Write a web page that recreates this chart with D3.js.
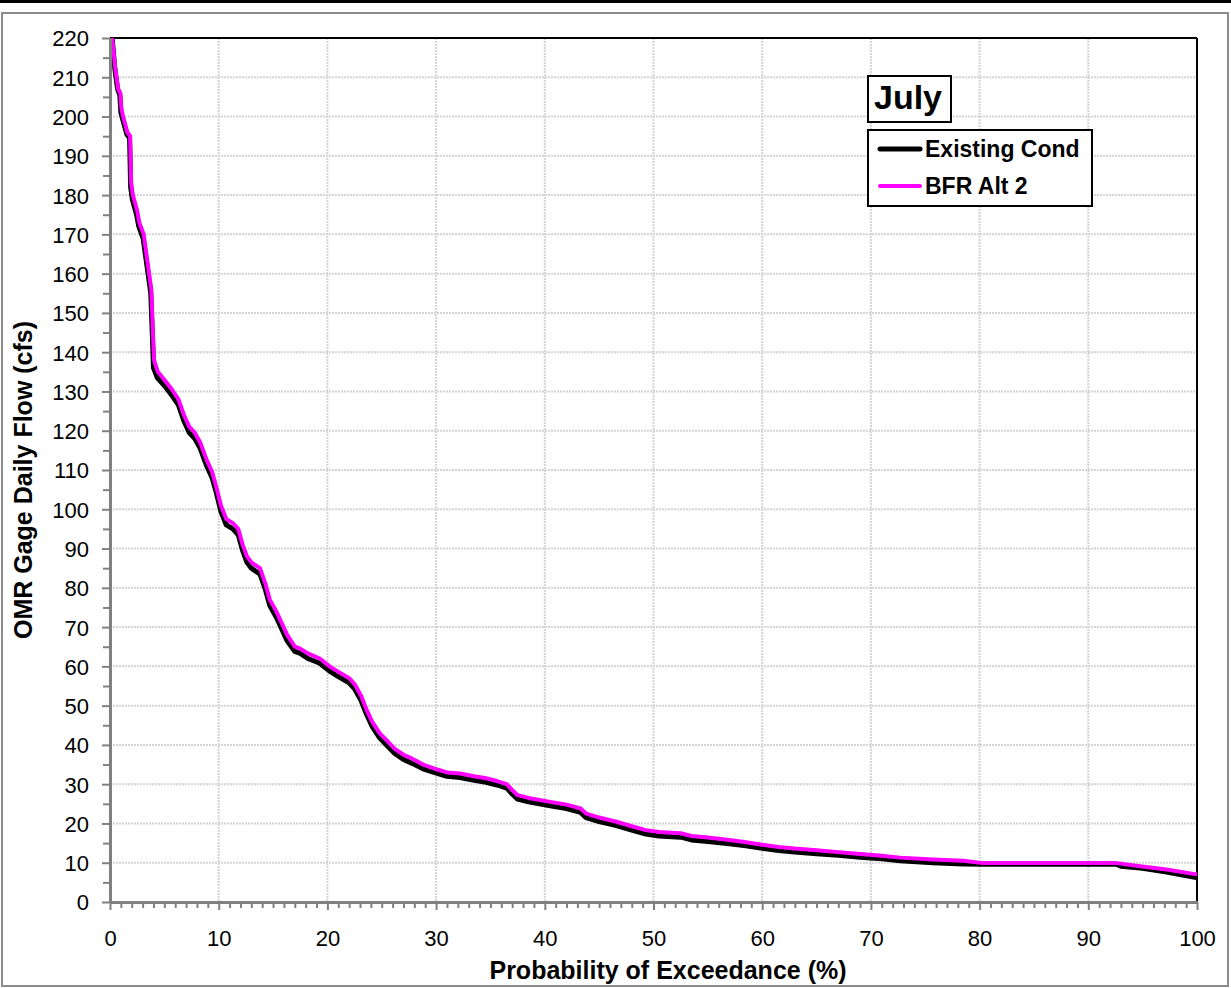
<!DOCTYPE html>
<html>
<head>
<meta charset="utf-8">
<script src="https://cdn.jsdelivr.net/npm/d3@7"></script>
<style>
  body { margin: 0; background: #fff; }
  text { font-family: "Liberation Sans", Arial, sans-serif; }
</style>
</head>
<body>
<div id="chart"></div>
<script>
// Exceedance curves: [probability %, flow cfs]
const existingCond = [
  [0.2,220],[0.45,212],[0.7,207],[0.9,205.5],[1.0,201],[1.15,199.5],[1.55,195.5],[1.8,194.5],
  [1.9,182],[2.05,179],[2.45,175],[2.65,172],[3.05,169],[3.45,161],[3.75,155],[3.9,144],
  [4.0,136],[4.35,133.5],[5.0,131.5],[5.7,129],[6.3,126.5],[6.8,122.5],[7.3,119.5],[7.8,118],
  [8.3,115.5],[8.9,111],[9.4,108],[9.8,104],[10.2,99.5],[10.7,96],[11.3,95],[11.8,93.5],
  [12.2,89.5],[12.6,86.5],[13,85],[13.8,83.5],[14.3,79.5],[14.7,75.5],[15.3,72.5],[15.8,69.5],
  [16.3,66.5],[17,63.8],[17.5,63.3],[18.2,62],[19.3,60.8],[20.2,58.8],[20.9,57.6],[22,55.8],
  [22.5,54.3],[23.1,51.3],[23.6,47.8],[24.1,44.8],[24.8,41.8],[25.5,39.8],[26.2,37.8],[27,36.3],
  [27.8,35.3],[28.8,33.9],[29.8,33],[31,32],[32.2,31.7],[33.5,31],[34.6,30.5],[35.6,29.8],
  [36.5,29],[37,27.5],[37.5,26.2],[38.5,25.5],[40.5,24.5],[42,23.8],[43.3,22.8],[43.8,21.5],
  [45,20.5],[46.5,19.5],[48,18.3],[49.3,17.3],[50.5,16.8],[52.5,16.5],[53.5,15.8],[55,15.4],
  [57,14.8],[58.5,14.3],[60,13.7],[61.5,13.1],[63,12.7],[65,12.3],[67,11.9],[69,11.4],
  [71,11.0],[72.7,10.5],[75.7,10.0],[78.5,9.7],[80.3,9.6],[92.6,9.6],[93,9.1],[95,8.6],
  [97.2,7.6],[99.8,6.3],[100,6.2]
];

const bfrAlt2 = [
  [0.2,220],[0.5,212],[0.75,207],[0.95,206],[1.05,202],[1.2,200],[1.6,196],[1.85,195],
  [1.95,183],[2.1,180],[2.5,176],[2.7,173],[3.1,170],[3.5,162],[3.8,156],[3.95,145],
  [4.05,138],[4.4,135],[5.0,133],[5.7,130.5],[6.3,128],[6.8,124],[7.3,121],[7.8,119.5],
  [8.3,117],[8.9,112.5],[9.4,109.5],[9.8,105.5],[10.2,101],[10.7,97.5],[11.3,96.5],[11.8,95],
  [12.2,91],[12.6,88],[13.0,86.5],[13.8,85],[14.3,81],[14.7,77],[15.3,74],[15.8,71],
  [16.3,68],[17.0,65],[17.5,64.5],[18.2,63.3],[19.3,62],[20.2,60],[20.9,58.8],[22.0,57],
  [22.5,55.5],[23.1,52.5],[23.6,49],[24.1,46],[24.8,43],[25.5,41],[26.2,39],[27.0,37.5],
  [27.8,36.5],[28.8,35],[29.8,34],[31,33],[32.2,32.7],[33.5,32],[34.6,31.5],[35.6,30.8],
  [36.5,30],[37.0,28.5],[37.5,27.2],[38.5,26.5],[40.5,25.5],[42,24.8],[43.3,23.8],[43.8,22.5],
  [45,21.5],[46.5,20.5],[48,19.3],[49.3,18.3],[50.5,17.8],[52.5,17.5],[53.5,16.8],[55,16.4],
  [57,15.8],[58.5,15.2],[60,14.6],[61.5,14],[63,13.6],[65,13.2],[67,12.7],[69,12.2],
  [71,11.8],[72.7,11.3],[75.7,10.8],[78.5,10.5],[80.3,9.9],[92.6,9.9],[94.8,9.1],[97.2,8.3],
  [99.8,7.1],[100,7.0]
];

const xTicks = d3.range(0, 101, 10);
const yTicks = d3.range(0, 221, 10);
const legendLabels = ["Existing Cond", "BFR Alt 2"];
const seriesColors = ["#000000", "#ff00ff"];

const width = 1231, height = 988;
const plot = { left: 110, right: 1197, top: 38, bottom: 902 };

const svg = d3.select("#chart")
  .append("svg")
  .attr("width", width)
  .attr("height", height);

// Black bar along the top and grey chart frame
svg.append("rect").attr("x", 0).attr("y", 0).attr("width", width).attr("height", 3).attr("fill", "#000");
svg.append("rect")
  .attr("x", 2).attr("y", 13).attr("width", 1226).attr("height", 973)
  .attr("fill", "#fff").attr("stroke", "#8c8c8c").attr("stroke-width", 2);

const x = d3.scaleLinear().domain([0, 100]).range([plot.left, plot.right]);
const y = d3.scaleLinear().domain([0, 220]).range([plot.bottom, plot.top]);

// Gridlines (dotted, light grey)
const grid = svg.append("g").attr("stroke", "#d4d4d4").attr("stroke-width", 2).attr("stroke-dasharray", "2,1");
grid.selectAll(".gx")
  .data(xTicks.filter(d => d > 0 && d < 100))
  .enter().append("line")
  .attr("x1", d => x(d)).attr("x2", d => x(d))
  .attr("y1", plot.top).attr("y2", plot.bottom);
grid.selectAll(".gy")
  .data(yTicks.filter(d => d > 0 && d < 220))
  .enter().append("line")
  .attr("x1", plot.left).attr("x2", plot.right)
  .attr("y1", d => y(d)).attr("y2", d => y(d));

// Plot border: top and right in black
svg.append("line").attr("x1", plot.left).attr("x2", plot.right).attr("y1", plot.top).attr("y2", plot.top)
  .attr("stroke", "#000").attr("stroke-width", 2);
svg.append("line").attr("x1", plot.right).attr("x2", plot.right).attr("y1", plot.top).attr("y2", plot.bottom)
  .attr("stroke", "#000").attr("stroke-width", 2);

// Lines
svg.append("clipPath").attr("id", "clip")
  .append("rect").attr("x", plot.left).attr("y", plot.top)
  .attr("width", plot.right - plot.left).attr("height", plot.bottom - plot.top);

const line = d3.line().x(d => x(d[0])).y(d => y(d[1]));

const lines = svg.append("g").attr("clip-path", "url(#clip)");
lines.append("path").datum(existingCond)
  .attr("d", line).attr("fill", "none")
  .attr("stroke", seriesColors[0]).attr("stroke-width", 5).attr("stroke-linejoin", "round");
lines.append("path").datum(bfrAlt2)
  .attr("d", line).attr("fill", "none")
  .attr("stroke", seriesColors[1]).attr("stroke-width", 4).attr("stroke-linejoin", "round");

// Y axis with minor ticks
const yAxis = svg.append("g").attr("transform", `translate(${plot.left},0)`)
  .call(d3.axisLeft(y).tickValues(yTicks).tickSize(8).tickPadding(13).tickSizeOuter(0));
const yMinor = svg.append("g").attr("transform", `translate(${plot.left},0)`)
  .call(d3.axisLeft(y).tickValues(d3.range(5, 220, 10)).tickSize(7).tickFormat("").tickSizeOuter(0));

// X axis with minor ticks
const xAxis = svg.append("g").attr("transform", `translate(0,${plot.bottom})`)
  .call(d3.axisBottom(x).tickValues(xTicks).tickSize(8).tickPadding(20).tickSizeOuter(0));
const xMinor = svg.append("g").attr("transform", `translate(0,${plot.bottom})`)
  .call(d3.axisBottom(x).tickValues(d3.range(1, 100, 1).filter(d => d % 10 !== 0)).tickSize(6).tickFormat("").tickSizeOuter(0));

[yAxis, yMinor, xAxis, xMinor].forEach(g => {
  g.selectAll("line").attr("stroke", "#808080").attr("stroke-width", 2);
  g.select(".domain").attr("stroke", "#808080").attr("stroke-width", 3);
  g.selectAll("text").attr("font-size", 22).attr("fill", "#000")
    .style("font-family", "'Liberation Sans', Arial, sans-serif");
});
yAxis.selectAll("text").attr("dy", "0.36em");

// Axis titles
svg.append("text")
  .attr("x", 668).attr("y", 979)
  .attr("text-anchor", "middle").attr("font-size", 25).attr("font-weight", "bold")
  .text("Probability of Exceedance (%)");
svg.append("text")
  .attr("transform", `translate(32,480) rotate(-90)`)
  .attr("text-anchor", "middle").attr("font-size", 25).attr("font-weight", "bold")
  .text("OMR Gage Daily Flow (cfs)");

// Title box
svg.append("rect").attr("x", 868).attr("y", 76).attr("width", 83).attr("height", 46)
  .attr("fill", "#fff").attr("stroke", "#000").attr("stroke-width", 2);
svg.append("text").attr("x", 874).attr("y", 109).attr("font-size", 34).attr("font-weight", "bold")
  .text("July");

// Legend
const legend = svg.append("g");
legend.append("rect").attr("x", 868).attr("y", 130).attr("width", 224).attr("height", 76)
  .attr("fill", "#fff").attr("stroke", "#000").attr("stroke-width", 2);
const items = legend.selectAll(".item")
  .data(legendLabels)
  .enter().append("g")
  .attr("transform", (d, i) => `translate(0,${149 + i * 37})`);
items.append("line")
  .attr("x1", 880).attr("x2", 920).attr("y1", 0).attr("y2", 0)
  .attr("stroke", (d, i) => seriesColors[i])
  .attr("stroke-width", (d, i) => i === 0 ? 5 : 4)
  .attr("stroke-linecap", "round");
items.append("text")
  .attr("x", 925).attr("y", 8)
  .attr("font-size", 23).attr("font-weight", "bold")
  .text(d => d);
</script>
</body>
</html>
